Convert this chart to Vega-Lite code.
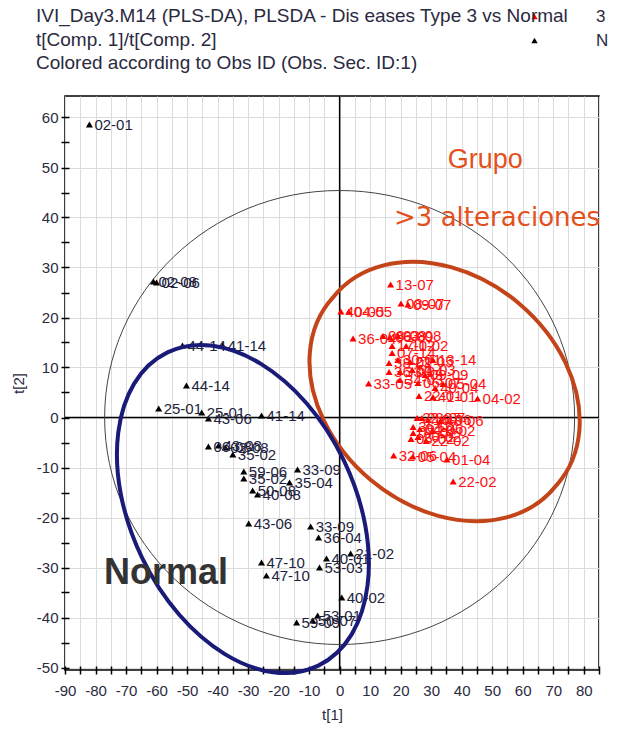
{
  "$schema": "https://vega.github.io/schema/vega-lite/v6.json",
  "width": 534,
  "height": 574,
  "autosize": {"type": "none"},
  "padding": {"left": 65, "top": 96, "right": 19, "bottom": 59},
  "background": "white",
  "config": {
    "font": "Liberation Sans",
    "view": {"stroke": "#000000", "strokeWidth": 1.5},
    "axis": {
      "labelFont": "Liberation Sans",
      "titleFont": "Liberation Sans",
      "labelFontSize": 15,
      "titleFontSize": 15,
      "titleFontWeight": "normal",
      "labelColor": "#2a2a40",
      "titleColor": "#2a2a40",
      "tickColor": "#000000",
      "tickWidth": 1.5,
      "gridColor": "#dcdcdc",
      "gridWidth": 1,
      "labelOverlap": false,
      "labelFlush": false,
      "labelBound": false
    }
  },
  "title": {
    "text": [
      "IVI_Day3.M14 (PLS-DA), PLSDA - Dis eases Type 3 vs Normal",
      "t[Comp. 1]/t[Comp. 2]",
      "Colored according to Obs ID (Obs. Sec. ID:1)"
    ],
    "anchor": "start",
    "frame": "group",
    "orient": "top",
    "fontSize": 19,
    "fontWeight": "normal",
    "color": "#2a2a40",
    "lineHeight": 23.5,
    "offset": 22,
    "dx": -29,
    "dy": 87
  },
  "datasets": {
    "scores": [
      {"id": "02-01", "grp": "N", "t1": -82.0, "t2": 58.6},
      {"id": "02-08", "grp": "N", "t1": -61.0, "t2": 27.2},
      {"id": "02-06", "grp": "N", "t1": -60.0, "t2": 27.0},
      {"id": "44-14", "grp": "N", "t1": -51.5, "t2": 14.4},
      {"id": "41-14", "grp": "N", "t1": -38.3, "t2": 14.4},
      {"id": "44-14", "grp": "N", "t1": -50.2, "t2": 6.4},
      {"id": "25-01", "grp": "N", "t1": -59.3, "t2": 1.8},
      {"id": "25-01", "grp": "N", "t1": -45.2, "t2": 1.0},
      {"id": "43-06", "grp": "N", "t1": -43.0, "t2": -0.2},
      {"id": "41-14", "grp": "N", "t1": -25.6, "t2": 0.4},
      {"id": "06-08", "grp": "N", "t1": -43.0, "t2": -5.8},
      {"id": "43-08", "grp": "N", "t1": -39.7, "t2": -5.6},
      {"id": "02-08", "grp": "N", "t1": -37.5, "t2": -6.0},
      {"id": "35-02", "grp": "N", "t1": -35.0, "t2": -7.4},
      {"id": "59-06", "grp": "N", "t1": -31.4, "t2": -10.8},
      {"id": "35-02", "grp": "N", "t1": -31.4, "t2": -12.2},
      {"id": "33-09", "grp": "N", "t1": -13.8, "t2": -10.4},
      {"id": "35-04", "grp": "N", "t1": -16.4, "t2": -13.0},
      {"id": "50-08", "grp": "N", "t1": -28.5, "t2": -14.6},
      {"id": "40-08", "grp": "N", "t1": -26.9, "t2": -15.4},
      {"id": "43-06", "grp": "N", "t1": -29.8, "t2": -21.2},
      {"id": "33-09", "grp": "N", "t1": -9.5, "t2": -21.8},
      {"id": "36-04", "grp": "N", "t1": -6.9, "t2": -24.0},
      {"id": "47-10", "grp": "N", "t1": -25.6, "t2": -29.0},
      {"id": "47-10", "grp": "N", "t1": -24.0, "t2": -31.6},
      {"id": "40-01", "grp": "N", "t1": -4.3, "t2": -28.2},
      {"id": "21-02", "grp": "N", "t1": 3.6, "t2": -27.2},
      {"id": "53-03", "grp": "N", "t1": -6.6, "t2": -30.0},
      {"id": "40-02", "grp": "N", "t1": 0.7, "t2": -36.0},
      {"id": "59-09", "grp": "N", "t1": -14.1, "t2": -41.0},
      {"id": "50-07", "grp": "N", "t1": -8.8, "t2": -40.6},
      {"id": "53-01", "grp": "N", "t1": -7.2, "t2": -39.6},
      {"id": "13-07", "grp": "3", "t1": 16.7, "t2": 26.6},
      {"id": "08-07", "grp": "3", "t1": 20.1, "t2": 22.8},
      {"id": "09-07", "grp": "3", "t1": 22.4, "t2": 22.6},
      {"id": "40-05", "grp": "3", "t1": 0.4, "t2": 21.2},
      {"id": "04-05", "grp": "3", "t1": 3.0, "t2": 21.2},
      {"id": "36-04", "grp": "3", "t1": 4.4, "t2": 15.8},
      {"id": "33-05", "grp": "3", "t1": 9.5, "t2": 6.8},
      {"id": "04-02", "grp": "3", "t1": 45.2, "t2": 3.8},
      {"id": "32-06", "grp": "3", "t1": 17.7, "t2": -7.6},
      {"id": "05-04", "grp": "3", "t1": 24.0, "t2": -7.8},
      {"id": "01-04", "grp": "3", "t1": 35.2, "t2": -8.4},
      {"id": "22-02", "grp": "3", "t1": 37.2, "t2": -12.8},
      {"id": "08-08", "grp": "3", "t1": 14.2, "t2": 16.3},
      {"id": "06-09", "grp": "3", "t1": 16.5, "t2": 16.1},
      {"id": "03-08", "grp": "3", "t1": 19.1, "t2": 16.3},
      {"id": "17-02", "grp": "3", "t1": 17.2, "t2": 14.3},
      {"id": "11-02", "grp": "3", "t1": 21.8, "t2": 14.3},
      {"id": "07-14", "grp": "3", "t1": 17.2, "t2": 12.9},
      {"id": "38-01", "grp": "3", "t1": 16.2, "t2": 10.9},
      {"id": "30-01", "grp": "3", "t1": 19.1, "t2": 11.5},
      {"id": "22-05", "grp": "3", "t1": 23.1, "t2": 11.1},
      {"id": "13-14", "grp": "3", "t1": 30.6, "t2": 11.5},
      {"id": "36-09", "grp": "3", "t1": 16.2, "t2": 9.1},
      {"id": "33-04", "grp": "3", "t1": 19.8, "t2": 9.1},
      {"id": "51-03", "grp": "3", "t1": 23.8, "t2": 9.5},
      {"id": "09-09", "grp": "3", "t1": 28.0, "t2": 8.5},
      {"id": "34-03", "grp": "3", "t1": 19.8, "t2": 7.5},
      {"id": "06-07", "grp": "3", "t1": 25.7, "t2": 6.9},
      {"id": "05-04", "grp": "3", "t1": 33.9, "t2": 6.7},
      {"id": "40-04", "grp": "3", "t1": 31.3, "t2": 5.9},
      {"id": "22-01", "grp": "3", "t1": 26.0, "t2": 4.3},
      {"id": "41-01", "grp": "3", "t1": 30.6, "t2": 4.1},
      {"id": "22-07", "grp": "3", "t1": 25.4, "t2": -0.1},
      {"id": "23-07", "grp": "3", "t1": 27.0, "t2": -0.1},
      {"id": "16-06", "grp": "3", "t1": 29.0, "t2": -0.5},
      {"id": "43-06", "grp": "3", "t1": 33.0, "t2": -0.7},
      {"id": "36-07", "grp": "3", "t1": 24.1, "t2": -1.9},
      {"id": "04-06", "grp": "3", "t1": 26.3, "t2": -2.3},
      {"id": "28-02", "grp": "3", "t1": 30.3, "t2": -2.7},
      {"id": "07-02", "grp": "3", "t1": 24.1, "t2": -3.1},
      {"id": "20-02", "grp": "3", "t1": 25.7, "t2": -3.9},
      {"id": "22-02", "grp": "3", "t1": 28.4, "t2": -4.7},
      {"id": "05-02", "grp": "3", "t1": 23.4, "t2": -4.3}
    ],
    "origin": [{"t1": 0, "t2": 0}],
    "groups": [
      {"name": "alt", "t1": 34.4, "t2": 5.2},
      {"name": "normal", "t1": -31.7, "t2": -18.3}
    ],
    "notes": [
      {"text": "Grupo", "kind": "alt", "t1": 47.7, "t2": 51.5},
      {"text": ">3 alteraciones", "kind": "alt2", "t1": 51.6, "t2": 39.9},
      {"text": "Normal", "kind": "normal", "t1": -56.9, "t2": -31.0}
    ]
  },
  "encoding": {
    "x": {
      "field": "t1",
      "type": "quantitative",
      "scale": {"domain": [-90, 85], "nice": false, "zero": false},
      "axis": {
        "values": [-90,-85,-80,-75,-70,-65,-60,-55,-50,-45,-40,-35,-30,-25,-20,-15,-10,-5,0,5,10,15,20,25,30,35,40,45,50,55,60,65,70,75,80,85],
        "labelExpr": "datum.value % 10 === 0 ? '' + datum.value : ''",
        "labelOverlap": false,
        "offset": -4,
        "tickSize": 8,
        "domain": false,
        "grid": true,
        "labelPadding": 9,
        "title": "t[1]",
        "titlePadding": 9
      }
    },
    "y": {
      "field": "t2",
      "type": "quantitative",
      "scale": {"domain": [-50.5, 64.3], "nice": false, "zero": false},
      "axis": {
        "values": [-50,-45,-40,-35,-30,-25,-20,-15,-10,-5,0,5,10,15,20,25,30,35,40,45,50,55,60],
        "labelExpr": "datum.value % 10 === 0 ? '' + datum.value : ''",
        "labelOverlap": false,
        "offset": -4,
        "tickSize": 8,
        "domain": false,
        "grid": true,
        "gridOpacity": {"condition": {"test": "datum.value % 10 === 0", "value": 1}, "value": 0},
        "labelPadding": 3,
        "title": "t[2]",
        "titlePadding": 10
      }
    }
  },
  "layer": [
    {
      "data": {"name": "origin"},
      "mark": {"type": "rule", "color": "#000000", "strokeWidth": 1.5},
      "encoding": {
        "y": {"value": 0},
        "y2": {"value": 574}
      }
    },
    {
      "data": {"name": "origin"},
      "mark": {"type": "rule", "color": "#000000", "strokeWidth": 1.5},
      "encoding": {
        "x": {"value": 0},
        "x2": {"value": 534}
      }
    },
    {
      "data": {"name": "origin"},
      "mark": {
        "type": "point",
        "shape": "M -235 0 A 235 227 0 1 0 235 0 A 235 227 0 1 0 -235 0 Z",
        "size": 4,
        "filled": false,
        "color": "#444444",
        "strokeWidth": 1,
        "opacity": 1
      }
    },
    {
      "data": {"name": "scores"},
      "mark": {"type": "point", "shape": "triangle-up", "filled": true, "size": 50, "opacity": 1, "strokeWidth": 0},
      "encoding": {
        "color": {
          "field": "grp",
          "type": "nominal",
          "scale": {"domain": ["3", "N"], "range": ["#ff0000", "#000000"]},
          "legend": {
            "orient": "none",
            "legendX": 461,
            "legendY": -88,
            "title": null,
            "padding": 0,
            "symbolType": "triangle-up",
            "symbolSize": 40,
            "symbolStrokeWidth": 0,
            "labelOffset": 53,
            "labelFontSize": 17,
            "labelColor": "#2a2a40",
            "rowPadding": 6
          }
        }
      }
    },
    {
      "data": {"name": "scores"},
      "mark": {"type": "text", "align": "left", "baseline": "middle", "dx": 5, "fontSize": 15},
      "encoding": {
        "text": {"field": "id"},
        "color": {"condition": {"test": "datum.grp === '3'", "value": "#ff1010"}, "value": "#22223c"}
      }
    },
    {
      "data": {"name": "groups"},
      "transform": [{"filter": "datum.name === 'alt'"}],
      "mark": {
        "type": "point",
        "shape": "M -111.8 -93.8 A 146 112 40 1 0 111.8 93.8 A 146 112 40 1 0 -111.8 -93.8 Z",
        "size": 4,
        "filled": false,
        "color": "#c4441a",
        "strokeWidth": 4,
        "opacity": 1
      }
    },
    {
      "data": {"name": "groups"},
      "transform": [{"filter": "datum.name === 'normal'"}],
      "mark": {
        "type": "point",
        "shape": "M -75.4 -156.6 A 173.8 112 64.3 1 0 75.4 156.6 A 173.8 112 64.3 1 0 -75.4 -156.6 Z",
        "size": 4,
        "filled": false,
        "color": "#1a1a78",
        "strokeWidth": 4,
        "opacity": 1
      }
    },
    {
      "data": {"name": "notes"},
      "transform": [{"filter": "datum.kind === 'alt'"}],
      "mark": {"type": "text", "align": "center", "baseline": "middle", "fontSize": 27, "color": "#e4501c", "clip": false},
      "encoding": {"text": {"field": "text"}}
    },
    {
      "data": {"name": "notes"},
      "transform": [{"filter": "datum.kind === 'alt2'"}],
      "mark": {"type": "text", "align": "center", "baseline": "middle", "font": "DejaVu Sans", "fontSize": 26, "color": "#e4501c", "clip": false},
      "encoding": {"text": {"field": "text"}}
    },
    {
      "data": {"name": "notes"},
      "transform": [{"filter": "datum.kind === 'normal'"}],
      "mark": {"type": "text", "align": "center", "baseline": "middle", "fontSize": 36, "fontWeight": "bold", "color": "#333333"},
      "encoding": {"text": {"field": "text"}}
    }
  ]
}
